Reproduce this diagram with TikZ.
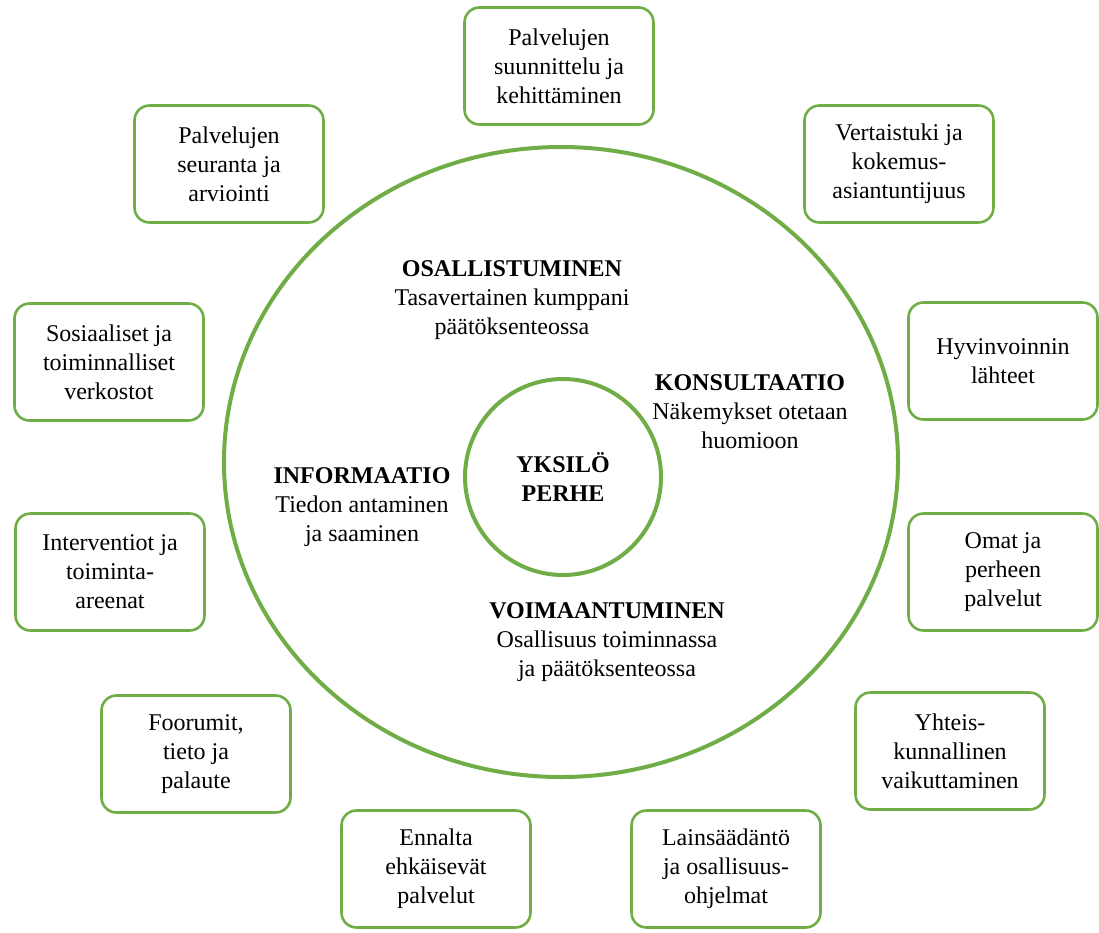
\documentclass[tikz,border=0pt]{standalone}
\usepackage{fontspec}
\setmainfont{LiberationSerif}[Extension = .ttf, UprightFont = *-Regular, BoldFont = *-Bold,
	ItalicFont = *-Italic, BoldItalicFont = *-BoldItalic]
\usepackage{tikz}
\definecolor{leafgreen}{RGB}{112,173,71}

\begin{document}
\begin{tikzpicture}[x=1pt, y=-1pt,
		ring/.style = {draw = leafgreen, line width = 4pt},
		itembox/.style = {draw = leafgreen, line width = 2.6pt, rounded corners = 15pt,
			minimum width = 189pt, minimum height = 117pt, align = center,
			font = \fontsize{24}{29}\selectfont},
		level/.style = {align = center, font = \fontsize{24}{29}\selectfont}]
	\useasboundingbox (0, 0) rectangle (1099, 932);
	% outer ring and centre
	\draw[ring] (561, 462) ellipse [x radius = 337pt, y radius = 315pt];
	\node[ring, circle, minimum size = 196pt, level] (yksilo) at (563, 477) {\textbf{YKSILÖ}\\\textbf{PERHE}};
	% levels of participation
	\node[level] (osallistuminen) at (512, 300) {\textbf{OSALLISTUMINEN}\\Tasavertainen kumppani\\päätöksenteossa};
	\node[level] (konsultaatio) at (750, 412) {\textbf{KONSULTAATIO}\\Näkemykset otetaan\\huomioon};
	\node[level] (informaatio) at (362, 507) {\textbf{INFORMAATIO}\\Tiedon antaminen\\ja saaminen};
	\node[level] (voimaantuminen) at (607, 642) {\textbf{VOIMAANTUMINEN}\\Osallisuus toiminnassa\\ja päätöksenteossa};
	% boxes round the ring
	\node[itembox] (suunnittelu) at (559, 66) {Palvelujen\\suunnittelu ja\\kehittäminen};
	\node[itembox] (vertaistuki) at (899, 164) {Vertaistuki ja\\kokemus-\\asiantuntijuus};
	\node[itembox] (hyvinvointi) at (1003, 361) {Hyvinvoinnin\\lähteet};
	\node[itembox] (omat) at (1003, 572) {Omat ja\\perheen\\palvelut};
	\node[itembox] (yhteiskunta) at (950, 751) {Yhteis-\\kunnallinen\\vaikuttaminen};
	\node[itembox] (lainsaadanto) at (726, 869) {Lainsäädäntö\\ja osallisuus-\\ohjelmat};
	\node[itembox] (ennalta) at (436, 869) {Ennalta\\ehkäisevät\\palvelut};
	\node[itembox] (foorumit) at (196, 754) {Foorumit,\\tieto ja\\palaute};
	\node[itembox] (interventiot) at (110, 572) {Interventiot ja\\toiminta-\\areenat};
	\node[itembox] (sosiaaliset) at (109, 362) {Sosiaaliset ja\\toiminnalliset\\verkostot};
	\node[itembox] (seuranta) at (229, 164) {Palvelujen\\seuranta ja\\arviointi};
\end{tikzpicture}
\end{document}
